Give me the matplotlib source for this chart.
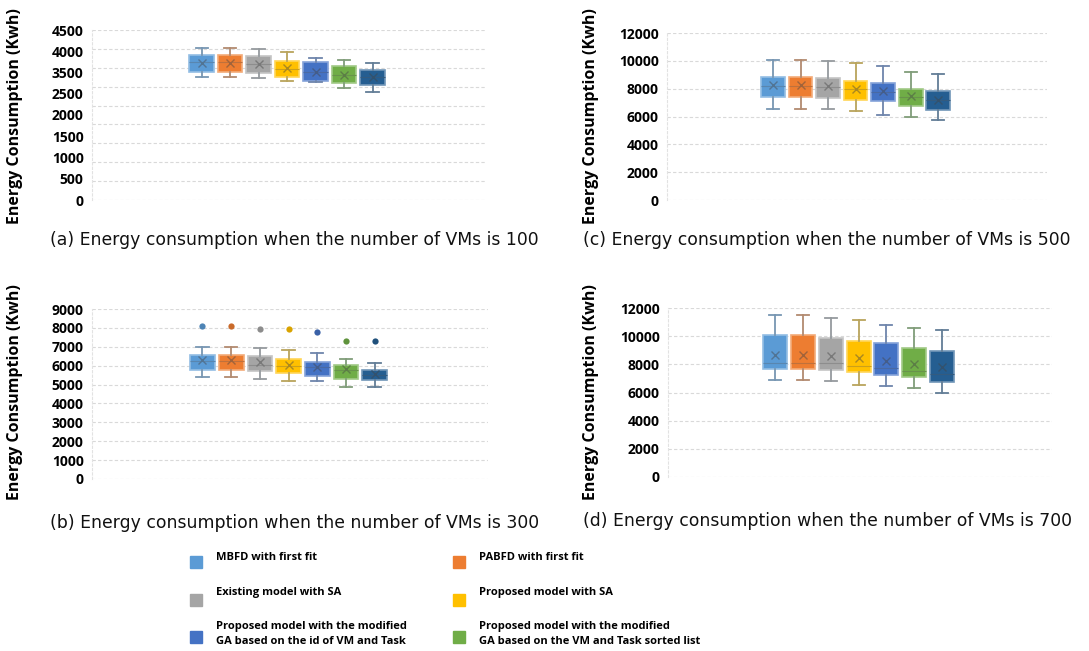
import numpy as np
import matplotlib
matplotlib.use('Agg')
import matplotlib.pyplot as plt
from matplotlib.colors import to_rgb
from matplotlib.patches import Rectangle

# series names and colours (dark blue 7th series has no legend entry)
labels = ['MBFD with first fit', 'PABFD with first fit',
          'Existing model with SA', 'Proposed model with SA',
          'Proposed model with the modified\nGA based on the id of VM and Task',
          'Proposed model with the modified\nGA based on the VM and Task sorted list']
colors = ['#5B9BD5', '#ED7D31', '#A5A5A5', '#FFC000', '#4472C4', '#70AD47', '#255E91']

# (a) 100 VMs
lo_100 = [3267, 3267, 3222, 3161, 3117, 2968, 2870]
q1_100 = [3381, 3381, 3356, 3249, 3161, 3100, 3048]
med_100 = [3640, 3640, 3590, 3480, 3400, 3320, 3250]
q3_100 = [3849, 3849, 3805, 3672, 3664, 3540, 3452]
hi_100 = [4016, 4016, 4000, 3911, 3751, 3717, 3630]
mean_100 = [3620, 3620, 3600, 3487, 3400, 3320, 3249]

# (b) 300 VMs
lo_300 = [5375, 5375, 5290, 5200, 5200, 4866, 4866]
q1_300 = [5746, 5746, 5730, 5608, 5465, 5290, 5216]
med_300 = [6250, 6250, 6050, 5980, 5920, 5760, 5520]
q3_300 = [6578, 6578, 6488, 6366, 6190, 6048, 5783]
hi_300 = [6965, 6965, 6933, 6843, 6668, 6366, 6137]
mean_300 = [6276, 6276, 6200, 6050, 5950, 5800, 5540]
out_300 = [8078, 8078, 7940, 7940, 7760, 7283, 7283]

# (c) 500 VMs
lo_500 = [6557, 6557, 6535, 6390, 6080, 5960, 5716]
q1_500 = [7398, 7398, 7326, 7158, 7085, 6773, 6485]
med_500 = [8200, 8200, 8150, 7950, 7780, 7420, 7180]
q3_500 = [8835, 8835, 8763, 8520, 8404, 7995, 7801]
hi_500 = [10030, 10030, 9958, 9843, 9600, 9195, 9074]
mean_500 = [8235, 8235, 8200, 8000, 7800, 7442, 7200]

# (d) 700 VMs
lo_700 = [6885, 6885, 6836, 6530, 6484, 6298, 5944]
q1_700 = [7642, 7642, 7590, 7472, 7240, 7075, 6765]
med_700 = [8066, 8066, 8066, 7900, 7712, 7543, 7300]
q3_700 = [10068, 10068, 9905, 9665, 9480, 9170, 8936]
hi_700 = [11484, 11484, 11320, 11130, 10825, 10585, 10422]
mean_700 = [8653, 8653, 8583, 8420, 8250, 8017, 7783]

titles = ['(a) Energy consumption when the number of VMs is 100',
          '(b) Energy consumption when the number of VMs is 300',
          '(c) Energy consumption when the number of VMs is 500',
          '(d) Energy consumption when the number of VMs is 700']
ticks_100 = ['0', '500', '1000', '1500', '2000', '2500', '3500', '4000', '4500']

BOLD_FONT = 'Open Sans'


def mix(c, other, t):
    a = np.array(to_rgb(c))
    b = np.array(to_rgb(other))
    return tuple(a * (1 - t) + b * t)


def draw(ax, lo, q1, med, q3, hi, mean, out=None):
    for i in range(len(colors)):
        st = dict(whislo=lo[i], q1=q1[i], med=med[i], q3=q3[i], whishi=hi[i],
                  mean=mean[i], fliers=[out[i]] if out else [])
        c = colors[i]
        wc = mix(c, '#8a929a', 0.6)
        ax.bxp([st], positions=[i], widths=0.86, showmeans=True, patch_artist=True,
               boxprops=dict(facecolor=c, edgecolor=mix(c, 'white', 0.35), lw=1.2),
               medianprops=dict(color=mix(c, '#555555', 0.3), lw=0.8),
               whiskerprops=dict(color=wc, lw=1.3),
               capprops=dict(color=wc, lw=1.3),
               meanprops=dict(marker='x', markeredgecolor=mix(c, '#444444', 0.45),
                              markersize=6, mew=1),
               flierprops=dict(marker='o', markerfacecolor=mix(c, 'black', 0.15),
                               markeredgecolor='none', markersize=4.5))
    ax.set_xlim(-3.85, 9.95)
    ax.set_xticks([])
    for s in ['top', 'right', 'bottom']:
        ax.spines[s].set_visible(False)
    ax.spines['left'].set_color('#e2e2e2')
    ax.spines['left'].set_linestyle((0, (2, 2)))
    ax.tick_params(axis='y', which='both', length=0, pad=6)
    ax.set_axisbelow(True)
    ax.grid(axis='y', color='#d9d9d9', lw=0.8, ls=(0, (3, 2)))


tick_font = dict(family=BOLD_FONT, weight='bold', size=10)

fig = plt.figure(figsize=(10.89, 6.51), dpi=100)
W, H = 1089, 651


def add_axes(x0, y0, x1, y1):
    return fig.add_axes([x0 / W, 1 - y1 / H, (x1 - x0) / W, (y1 - y0) / H])


ax_a = add_axes(92, 30, 485, 200)
ax_c = add_axes(667, 33, 1047, 200)
ax_b = add_axes(92, 309, 488, 479)
ax_d = add_axes(668, 308, 1052, 477)

draw(ax_a, lo_100, q1_100, med_100, q3_100, hi_100, mean_100)
ax_a.set_ylim(0, 4500)
ax_a.yaxis.remove_overlapping_locs = False
ax_a.set_yticks(np.arange(0, 4501, 500))
ax_a.set_yticklabels([])
ax_a.set_yticks(np.linspace(0, 4500, len(ticks_100)), minor=True)
ax_a.set_yticklabels(ticks_100, minor=True, **tick_font)

draw(ax_b, lo_300, q1_300, med_300, q3_300, hi_300, mean_300, out_300)
ax_b.set_ylim(0, 9000)
ax_b.set_yticks(np.arange(0, 9001, 1000))

draw(ax_c, lo_500, q1_500, med_500, q3_500, hi_500, mean_500)
ax_c.set_ylim(0, 12000)
ax_c.set_yticks(np.arange(0, 12001, 2000))

draw(ax_d, lo_700, q1_700, med_700, q3_700, hi_700, mean_700)
ax_d.set_ylim(0, 12000)
ax_d.set_yticks(np.arange(0, 12001, 2000))

for ax in [ax_b, ax_c, ax_d]:
    for t in ax.get_yticklabels():
        t.set_fontfamily(BOLD_FONT)
        t.set_fontweight('bold')
        t.set_fontsize(10)

# y labels
for x, y in [(15, 116), (15, 392), (591, 116), (591, 392)]:
    fig.text(x / W, 1 - y / H, 'Energy Consumption (Kwh)', rotation=90,
             ha='center', va='center', family=BOLD_FONT, weight='bold', size=11.5)

# panel captions
for (x, y), t in zip([(50, 240), (50, 523), (583, 240), (583, 521)], titles):
    fig.text(x / W, 1 - y / H, t, ha='left', va='center', family='DejaVu Sans',
             size=12.4, color='#111111')

# legend
for i, lab in enumerate(labels):
    col, row = i % 2, i // 2
    mx = [196, 459][col]
    my = [562, 600, 637][row]
    fig.patches.append(Rectangle(((mx - 6) / W, 1 - (my + 6) / H), 12 / W, 12 / H,
                                 transform=fig.transFigure, color=colors[i]))
    ty = [557, 593, 634][row]
    fig.text((mx + 20) / W, 1 - ty / H, lab, ha='left', va='center',
             family=BOLD_FONT, weight='bold', size=8, linespacing=1.45)

fig.savefig('out.png', dpi=100)
